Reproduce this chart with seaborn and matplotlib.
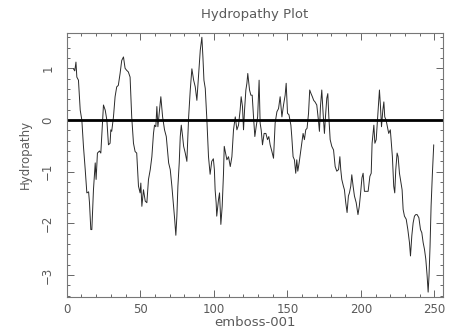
import matplotlib
matplotlib.use("Agg")
import matplotlib.pyplot as plt
from matplotlib.ticker import MultipleLocator
import seaborn as sns
import pandas as pd

residue = [4.6, 5.5, 6.3, 6.9, 8.0, 9.2, 10.3, 11.4, 12.6, 13.7, 14.9, 15.5, 16.4, 17.1, 18.2, 19.4, 20.0, 20.9, 22.3, 23.2,
           24.1, 25.0, 26.2, 27.3, 28.4, 29.5, 30.0, 30.6, 31.8, 32.9, 34.0, 35.1, 36.3, 37.4, 38.6, 39.7, 40.8, 41.9, 43.1, 44.2,
           45.4, 46.5, 47.6, 48.8, 49.9, 50.4, 51.1, 52.2, 53.4, 54.5, 55.6, 56.8, 57.9, 59.0, 59.7, 60.6, 61.3, 62.0, 62.9, 64.0,
           65.2, 66.5, 67.7, 69.3, 70.4, 71.5, 72.7, 73.4, 74.2, 74.9, 75.6, 76.5, 77.2, 77.9, 78.8, 79.5, 80.6, 81.7, 82.9, 84.0,
           85.1, 86.3, 87.4, 88.5, 89.7, 90.8, 91.9, 92.6, 93.3, 94.2, 95.3, 96.4, 97.5, 98.6, 99.7, 100.4, 100.9, 101.6, 102.0, 103.2,
           103.9, 104.8, 105.7, 106.6, 107.1, 108.0, 108.9, 110.0, 111.2, 112.3, 113.4, 114.6, 115.7, 116.8, 117.9, 118.6, 119.5, 120.2, 120.9, 121.8,
           122.5, 123.1, 124.3, 125.2, 126.1, 127.0, 127.9, 128.8, 129.8, 130.8, 131.5, 132.2, 133.1, 134.2, 135.4, 136.5, 137.4, 138.3, 139.5, 140.6,
           141.7, 142.9, 144.0, 145.1, 146.3, 147.4, 148.5, 149.2, 150.1, 151.1, 152.4, 153.0, 153.9, 154.8, 155.7, 156.4, 157.1, 158.0, 158.9, 159.8,
           160.7, 161.6, 162.5, 163.4, 164.4, 165.2, 166.1, 167.0, 167.9, 168.8, 170.0, 171.1, 171.8, 172.5, 173.4, 174.3, 175.2, 175.9, 176.8, 177.5,
           178.2, 179.1, 180.2, 181.4, 182.5, 183.6, 184.8, 185.7, 186.3, 187.0, 188.1, 188.8, 189.7, 190.6, 191.5, 192.2, 193.1, 193.8, 194.7, 195.6,
           196.8, 198.0, 198.9, 199.8, 200.7, 201.5, 202.4, 203.8, 204.9, 206.1, 207.0, 207.6, 208.8, 209.5, 210.4, 211.1, 211.7, 212.6, 213.3, 214.0,
           214.9, 215.6, 216.2, 217.1, 217.8, 218.9, 220.0, 220.7, 221.4, 222.3, 223.0, 223.7, 224.6, 225.3, 226.2, 226.9, 228.0, 228.7, 229.6, 230.8,
           231.9, 233.0, 233.7, 234.6, 235.5, 236.4, 237.3, 238.2, 239.4, 240.5, 241.4, 242.3, 243.2, 244.1, 245.0, 245.7, 246.3, 247.0, 247.7, 248.6,
           249.5]
hydropathy = [0.99, 0.95, 1.12, 0.83, 0.77, 0.19, 0.00, -0.51, -0.96, -1.41, -1.39, -1.60, -2.12, -2.12, -1.35, -0.83, -1.15, -0.64, -0.60, -0.64,
              -0.19, 0.29, 0.19, 0.00, -0.48, -0.45, -0.19, -0.22, 0.06, 0.45, 0.64, 0.67, 0.90, 1.15, 1.22, 1.00, 0.96, 0.93, 0.83, 0.06,
              -0.45, -0.61, -0.64, -1.28, -1.41, -1.22, -1.67, -1.35, -1.57, -1.60, -1.15, -0.96, -0.71, -0.26, -0.10, -0.13, 0.26, -0.13, 0.13, 0.45,
              0.06, -0.19, -0.32, -0.83, -0.96, -1.28, -1.67, -1.92, -2.23, -1.86, -1.28, -0.83, -0.32, -0.10, -0.32, -0.51, -0.64, -0.80, 0.06, 0.58,
              0.99, 0.77, 0.64, 0.38, 0.90, 1.35, 1.60, 1.22, 0.77, 0.61, 0.00, -0.71, -1.05, -0.80, -0.75, -0.96, -1.35, -1.60, -1.86, -1.54,
              -1.41, -2.02, -1.67, -1.03, -0.51, -0.64, -0.77, -0.71, -0.90, -0.71, -0.19, 0.06, -0.19, -0.10, 0.19, 0.45, 0.26, -0.19, 0.19, 0.58,
              0.71, 0.90, 0.58, 0.48, 0.48, 0.06, -0.32, -0.13, 0.06, 0.77, -0.06, -0.19, -0.48, -0.26, -0.26, -0.38, -0.32, -0.48, -0.61, -0.74,
              -0.06, 0.16, 0.22, 0.45, 0.06, 0.29, 0.48, 0.71, 0.13, 0.10, -0.10, -0.32, -0.71, -0.77, -1.03, -0.77, -0.99, -0.83, -0.64, -0.45,
              -0.26, -0.38, -0.19, -0.16, 0.13, 0.58, 0.51, 0.45, 0.38, 0.35, 0.29, 0.00, -0.22, 0.26, 0.58, 0.13, -0.26, 0.06, 0.42, 0.51,
              0.06, -0.38, -0.51, -0.58, -0.90, -0.99, -0.96, -0.71, -0.96, -1.15, -1.28, -1.35, -1.60, -1.79, -1.47, -1.41, -1.28, -1.06, -1.28, -1.47,
              -1.60, -1.83, -1.67, -1.41, -1.12, -1.03, -1.38, -1.38, -1.38, -1.09, -1.03, -0.45, -0.10, -0.45, -0.38, -0.06, 0.19, 0.58, 0.26, -0.13,
              0.19, 0.35, 0.06, 0.00, -0.10, -0.26, -0.19, -0.45, -0.71, -1.28, -1.41, -0.96, -0.64, -0.71, -1.03, -1.15, -1.35, -1.73, -1.86, -1.92,
              -2.12, -2.37, -2.63, -2.24, -1.99, -1.86, -1.83, -1.83, -1.89, -2.12, -2.18, -2.37, -2.50, -2.69, -3.01, -3.33, -3.01, -2.44, -1.67, -1.03,
              -0.48]

title = "Hydropathy Plot"
xlabel = "emboss-001"
ylabel = "Hydropathy"

sns.set_theme(style="ticks")
plt.rcParams['font.family'] = ['DejaVu Sans']

txt = "#5a5a5a"
fig = plt.figure(figsize=(4.58, 3.33), dpi=100)
ax = fig.add_axes([0.1456, 0.1072, 0.821, 0.7928])

df = pd.DataFrame({"x": residue, "y": hydropathy})
sns.lineplot(data=df, x="x", y="y", ax=ax, sort=False, estimator=None,
             color="#2a2a2a", linewidth=0.7)
ax.axhline(0, color="black", linewidth=2)

ax.set_xlim(0, 255.6)
ax.set_ylim(-3.43, 1.677)
ax.xaxis.set_major_locator(MultipleLocator(50))
ax.xaxis.set_minor_locator(MultipleLocator(10))
ax.yaxis.set_major_locator(MultipleLocator(1))
ax.yaxis.set_minor_locator(MultipleLocator(0.2))
ax.tick_params(which="both", direction="in", top=True, right=True,
               color="#666666", width=0.7, labelcolor=txt, labelsize=8.5)
ax.tick_params(which="major", length=5)
ax.tick_params(which="minor", length=2.5)
ax.tick_params(axis="y", which="major", pad=9)
ax.tick_params(axis="x", which="major", pad=4)
for lab in ax.get_yticklabels():
    lab.set_rotation(90)
    lab.set_va("center")
for s in ax.spines.values():
    s.set_color("#777777")
    s.set_linewidth(0.8)

ax.set_title(title, color=txt, fontsize=9.5, pad=11)
ax.set_xlabel(xlabel, color=txt, fontsize=9.5, labelpad=0)
ax.set_ylabel(ylabel, color=txt, fontsize=8.5, labelpad=10)
ax.yaxis.set_label_coords(-0.092, 0.54)

fig.savefig("out.png", dpi=100)
